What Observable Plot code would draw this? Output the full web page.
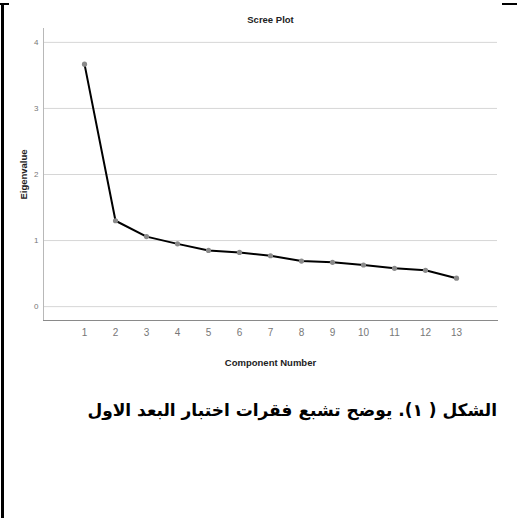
<!DOCTYPE html>
<html>
<head>
<meta charset="utf-8">
<script src="https://cdn.jsdelivr.net/npm/d3@7"></script>
<script src="https://cdn.jsdelivr.net/npm/@observablehq/plot@0.6"></script>
<style>
  html, body { margin: 0; padding: 0; background: #fff; }
  #page { position: relative; width: 517px; height: 518px; overflow: hidden; }
  #chart { position: absolute; left: 0; top: 0; }
  .bar { position: absolute; background: #000; }
  #caption {
    position: absolute; right: 20px; top: 400px;
    direction: rtl; font-family: "DejaVu Sans", "Liberation Sans", sans-serif;
    font-weight: bold; font-size: 17px; color: #000; white-space: nowrap;
  }
</style>
</head>
<body>
<div id="page">
  <div class="bar" style="left:1px;top:3px;width:3px;height:515px"></div>
  <div class="bar" style="left:0px;top:3px;width:9px;height:2px"></div>
  <div class="bar" style="left:502px;top:3px;width:15px;height:2px"></div>
  <div id="chart"></div>
  <div id="caption">الشكل ( ١).  يوضح تشبع فقرات اختبار البعد الاول</div>
</div>
<script>
const components = [1, 2, 3, 4, 5, 6, 7, 8, 9, 10, 11, 12, 13];
const eigenvalues = [3.67, 1.30, 1.06, 0.95, 0.85, 0.82, 0.77, 0.69, 0.67, 0.63, 0.58, 0.55, 0.43];
const yTicks = [0, 1, 2, 3, 4];
const yDomain = [-0.21, 4.21];
const chartTitle = "Scree Plot";
const xLabel = "Component Number";
const yLabel = "Eigenvalue";

const data = components.map((c, i) => ({component: c, eigenvalue: eigenvalues[i]}));
const font = "'Liberation Sans', Arial, sans-serif";

const plot = Plot.plot({
  width: 517,
  height: 380,
  marginTop: 28,
  marginBottom: 60,
  marginLeft: 43,
  marginRight: 20,
  style: {fontFamily: font, background: "transparent"},
  x: {type: "point", domain: components, padding: 1.23, label: null},
  y: {domain: yDomain, label: null},
  marks: [
    Plot.gridY(yTicks, {stroke: "#d6d6d6", strokeOpacity: 1, strokeWidth: 1}),
    Plot.frame({anchor: "left", stroke: "#b8b8b8"}),
    Plot.frame({anchor: "bottom", stroke: "#8a8a8a"}),
    Plot.axisY(yTicks, {tickSize: 0, tickPadding: 5, fontSize: 8, fill: "#777", tickFormat: d3.format("d"), label: null}),
    Plot.axisX({tickSize: 0, tickPadding: 8, fontSize: 10, fill: "#777", label: null}),
    Plot.line(data, {x: "component", y: "eigenvalue", stroke: "#000", strokeWidth: 2}),
    Plot.dot(data, {x: "component", y: "eigenvalue", r: 2.6, fill: "#8a8a8a", stroke: "none"}),
    Plot.text([chartTitle], {frameAnchor: "top", dy: -9, lineAnchor: "middle", fontSize: 9.5, fontWeight: "bold", fill: "#222"}),
    Plot.text([xLabel], {frameAnchor: "bottom", dy: 42, lineAnchor: "middle", fontSize: 9.5, fontWeight: "bold", fill: "#222"}),
    Plot.text([yLabel], {frameAnchor: "left", dx: -20, rotate: -90, textAnchor: "middle", lineAnchor: "middle", fontSize: 9.5, fontWeight: "bold", fill: "#222"})
  ]
});
document.getElementById("chart").appendChild(plot);
</script>
</body>
</html>
